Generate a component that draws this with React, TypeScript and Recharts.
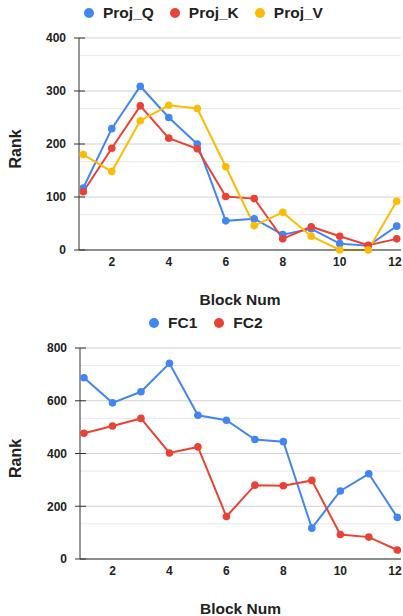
import React from 'react';
import { LineChart, Line, XAxis, YAxis, CartesianGrid, Label } from 'recharts';

const blocks = [1, 2, 3, 4, 5, 6, 7, 8, 9, 10, 11, 12];
const projQ = [117, 229, 309, 250, 200, 55, 59, 29, 40, 12, 8, 45];
const projK = [110, 192, 272, 211, 191, 101, 97, 21, 44, 26, 9, 21];
const projV = [180, 148, 244, 273, 267, 157, 46, 71, 26, 0, 0, 92];
const fc1 = [687, 592, 634, 742, 545, 526, 453, 445, 117, 258, 323, 158];
const fc2 = [477, 504, 533, 402, 425, 161, 280, 278, 298, 93, 83, 34];

const xTicks = [2, 4, 6, 8, 10, 12];
const topTicks = [0, 100, 200, 300, 400];
const bottomTicks = [0, 200, 400, 600, 800];

const BLUE = '#4285F4';
const RED = '#EA4335';
const YELLOW = '#FBBC04';
const FONT = '"Liberation Sans", Arial, sans-serif';

const topData = blocks.map((b, i) => ({ block: b, Proj_Q: projQ[i], Proj_K: projK[i], Proj_V: projV[i] }));
const bottomData = blocks.map((b, i) => ({ block: b, FC1: fc1[i], FC2: fc2[i] }));

const minorValues = (ticks: number[]) => {
  const out: number[] = [];
  for (let i = 0; i < ticks.length - 1; i++) {
    const step = (ticks[i + 1] - ticks[i]) / 3;
    out.push(ticks[i] + step, ticks[i] + 2 * step);
  }
  return out;
};

const YTick = (props: any) => {
  const { x, y, payload } = props;
  return (
    <g>
      <line x1={x + 7} x2={x + 18} y1={y} y2={y} stroke="#333" strokeWidth={1} />
      <text x={x - 1} y={y} dy="0.36em" textAnchor="end" fontSize={12} fontWeight="bold" fill="#222" fontFamily={FONT}>
        {payload.value}
      </text>
    </g>
  );
};

const XTick = (props: any) => {
  const { x, y, payload } = props;
  return (
    <text x={x} y={y} dy="0.75em" textAnchor="middle" fontSize={12} fontWeight="bold" fill="#222" fontFamily={FONT}>
      {payload.value}
    </text>
  );
};

const XLabel = (props: any) => {
  const vb = props.viewBox || {};
  return (
    <text x={vb.x + vb.width / 2} y={vb.y + 55} textAnchor="middle" fontSize={15.5} fontWeight="bold" fill="#222" fontFamily={FONT}>
      Block Num
    </text>
  );
};

const YLabel = (props: any) => {
  const vb = props.viewBox || {};
  const cy = vb.y + vb.height / 2 + 5;
  const cx = 15.5;
  return (
    <text x={cx} y={cy} transform={`rotate(-90 ${cx} ${cy})`} dy="0.35em" textAnchor="middle" fontSize={16} fontWeight="bold" fill="#222" fontFamily={FONT}>
      Rank
    </text>
  );
};

const LegendRow = ({ items, left, top, gap }: { items: { name: string; color: string }[]; left: number; top: number; gap: number }) => (
  <div style={{ position: 'absolute', left, top, display: 'flex', alignItems: 'center', gap, fontFamily: FONT, fontWeight: 'bold', fontSize: 15.5, color: '#222', lineHeight: '18px', whiteSpace: 'nowrap' }}>
    {items.map((it) => (
      <div key={it.name} style={{ display: 'flex', alignItems: 'center' }}>
        <span style={{ width: 10, height: 10, borderRadius: 5, background: it.color, display: 'inline-block', marginRight: 9 }} />
        <span>{it.name}</span>
      </div>
    ))}
  </div>
);

const series = (key: string, color: string) => (
  <Line
    key={key}
    type="linear"
    dataKey={key}
    stroke={color}
    strokeWidth={2}
    dot={{ r: 3.8, fill: color, stroke: color, strokeWidth: 0 }}
    activeDot={false}
    isAnimationActive={false}
  />
);

export default function App() {
  return (
    <div style={{ position: 'absolute', left: 0, top: 0, width: 403, height: 616, background: '#fff' }}>
      <div style={{ position: 'absolute', left: 0, top: 0 }}>
        <LineChart width={403} height={310} data={topData} margin={{ top: 38, right: 2, left: 19, bottom: 30 }}>
          <CartesianGrid vertical={false} horizontalValues={minorValues(topTicks)} stroke="#e8e8e8" />
          <CartesianGrid vertical={false} stroke="#d0d0d0" />
          <XAxis
            dataKey="block"
            type="number"
            domain={[0.85, 12.15]}
            ticks={xTicks}
            allowDataOverflow
            height={30}
            tickLine={false}
            tickSize={5}
            tickMargin={2}
            stroke="#333"
            tick={<XTick />}
          >
            <Label content={<XLabel />} />
          </XAxis>
          <YAxis
            width={60}
            domain={[0, 400]}
            ticks={topTicks}
            tickLine={false}
            tickSize={12}
            tickMargin={0}
            stroke="#333"
            tick={<YTick />}
          >
            <Label content={<YLabel />} />
          </YAxis>
          {series('Proj_Q', BLUE)}
          {series('Proj_K', RED)}
          {series('Proj_V', YELLOW)}
        </LineChart>
      </div>
      <LegendRow
        left={84}
        top={4}
        gap={16}
        items={[
          { name: 'Proj_Q', color: BLUE },
          { name: 'Proj_K', color: RED },
          { name: 'Proj_V', color: YELLOW },
        ]}
      />
      <div style={{ position: 'absolute', left: 0, top: 310 }}>
        <LineChart width={403} height={306} data={bottomData} margin={{ top: 38, right: 2, left: 20, bottom: 27 }}>
          <CartesianGrid vertical={false} horizontalValues={minorValues(bottomTicks)} stroke="#e8e8e8" />
          <CartesianGrid vertical={false} stroke="#d0d0d0" />
          <XAxis
            dataKey="block"
            type="number"
            domain={[0.86, 12.13]}
            ticks={xTicks}
            allowDataOverflow
            height={30}
            tickLine={false}
            tickSize={5}
            tickMargin={2}
            stroke="#333"
            tick={<XTick />}
          >
            <Label content={<XLabel />} />
          </XAxis>
          <YAxis
            width={60}
            domain={[0, 800]}
            ticks={bottomTicks}
            tickLine={false}
            tickSize={12}
            tickMargin={0}
            stroke="#333"
            tick={<YTick />}
          >
            <Label content={<YLabel />} />
          </YAxis>
          {series('FC1', BLUE)}
          {series('FC2', RED)}
        </LineChart>
      </div>
      <LegendRow
        left={149}
        top={314}
        gap={17}
        items={[
          { name: 'FC1', color: BLUE },
          { name: 'FC2', color: RED },
        ]}
      />
    </div>
  );
}
